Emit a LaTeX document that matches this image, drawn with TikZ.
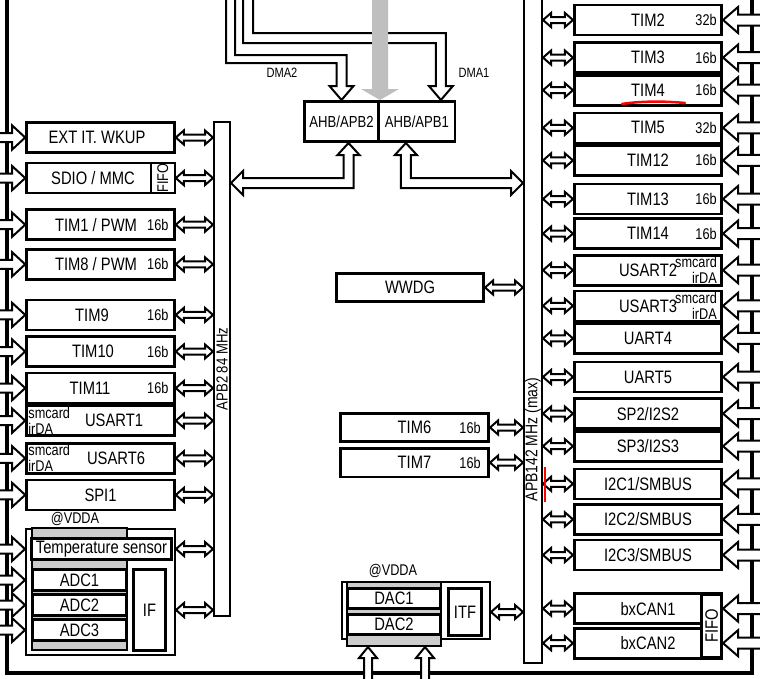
\documentclass[tikz,border=0pt]{standalone}
\usepackage{fontspec}
\setmainfont[FakeStretch=0.82]{Liberation Sans}
\usetikzlibrary{calc,positioning}
\tikzset{blk/.style={draw, line width=2.6pt, fill=white, inner sep=0pt, minimum width=148pt,
    minimum height=30pt, font=\fontsize{18}{19}\selectfont},
  rblk/.style={blk, minimum width=147.5pt},
  bits/.style={inner sep=0pt, align=left, font=\fontsize{15.5}{16}\selectfont},
  bar/.style={draw, line width=2pt, fill=white, inner sep=0pt},
  bus/.style={line width=4.5pt, line join=miter},
  hollow/.style={draw, line width=2pt, fill=white, line join=miter},
  shade/.style={draw, line width=2.4pt, fill=gray!40, inner sep=0pt},
  greyarrow/.style={fill=gray!50}}

% hollow arrow, heads at both ends
\newcommand{\dblarrow}[2]{%
  \path[hollow] let \p1=#1, \p2=#2, \n1={atan2(\y2-\y1,\x2-\x1)},
    \n2={veclen(\x2-\x1,\y2-\y1)} in [shift={(\p1)}, rotate=\n1]
    (0pt,0pt) -- (8pt,7pt) -- (8pt,3pt) -- ({\n2*1pt-8pt},3pt) -- ({\n2*1pt-8pt},7pt)
    -- ({\n2*1pt},0pt) -- ({\n2*1pt-8pt},-7pt) -- ({\n2*1pt-8pt},-3pt) -- (8pt,-3pt)
    -- (8pt,-7pt) -- cycle;}
% hollow arrow, head at #3; #4 shaft, #5 head (half widths), #6 head length
\newcommand{\onearrow}[6][hollow]{%
  \path[#1] let \p1=#2, \p2=#3, \n1={atan2(\y2-\y1,\x2-\x1)},
    \n2={veclen(\x2-\x1,\y2-\y1)} in [shift={(\p1)}, rotate=\n1]
    (0pt,#4pt) -- ({\n2*1pt-#6pt},#4pt) -- ({\n2*1pt-#6pt},#5pt) -- ({\n2*1pt},0pt)
    -- ({\n2*1pt-#6pt},-#5pt) -- ({\n2*1pt-#6pt},-#4pt) -- (0pt,-#4pt) -- cycle;}

\begin{document}
\begin{tikzpicture}[x=1pt, y=-1pt, font=\fontsize{18}{19}\selectfont]
  \useasboundingbox (0,0) rectangle (760,678);
  \coordinate (lft) at (-6,0);
  \coordinate (rgt) at (766,0);
  \coordinate (btm) at (0,684);
  \coordinate (ahbrow) at (0,183);
  % outer bus
  \draw[bus] (7,-6) |- (752,673) -- (752,-6);
  % APB buses
  \node[bar, minimum width=16pt, minimum height=494pt] (apb2) at (222,369) {};
  \node[rotate=90, inner sep=0pt, font=\fontsize{16}{17}\selectfont] (apb2-t) at (apb2) {APB2 84 MHz};
  \node[bar, minimum width=18pt, minimum height=673pt] (apb1) at (533,326.5) {};
  \node[rotate=90, inner sep=0pt, font=\fontsize{17}{18}\selectfont] (apb1-t) at ($(apb1)+(0,113)$) {APB142 MHz (max)};
  % bridges
  \node[blk, minimum width=74.4pt, minimum height=40.4pt, font=\fontsize{16}{17}\selectfont] (ahb2) at (341.5,121.5) {AHB/APB2};
  \node[blk, minimum width=76.4pt, minimum height=40.4pt, font=\fontsize{16}{17}\selectfont, right=-2.6pt of ahb2] (ahb1) {AHB/APB1};

  % APB2 side
  \node[blk] (ext) at (100.5,137.5) {EXT IT. WKUP\hspace*{7pt}};
  \node[blk, below=8pt of ext] (sdio) {SDIO / MMC\hspace*{15pt}};
  \node[blk, below=14pt of sdio] (tim1) {TIM1 / PWM\hspace*{9pt}};
  \node[blk, below=7pt of tim1] (tim8) {TIM8 / PWM\hspace*{9pt}};
  \node[blk, below=18pt of tim8] (tim9) {TIM9\hspace*{17pt}};
  \node[blk, below=4pt of tim9] (tim10) {TIM10\hspace*{15pt}};
  \node[blk, below=4pt of tim10] (tim11) {TIM11\hspace*{21pt}};
  \node[blk, below=0pt of tim11] (usart1) {\hspace*{27pt}USART1};
  \node[blk, below=5pt of usart1] (usart6) {\hspace*{31pt}USART6};
  \node[blk, below=4pt of usart6] (spi1) {SPI1};
  \node[draw, line width=2pt, fill=white, inner sep=0pt, minimum width=24pt, minimum height=30.6pt, anchor=east] (sdiofifo) at (sdio.east) {};
  \node[bits, rotate=90] (sdiofifo-t) at (sdiofifo) {FIFO};
  \foreach \b in {tim1,tim8,tim9,tim10,tim11}
    \node[bits] (\b-w) at ($(\b.east)+(-18,0)$) {16b};
  \node[bits, anchor=west] (usart1-s) at ($(usart1.west)+(3,0)$) {smcard\\irDA};
  \node[bits, anchor=west] (usart6-s) at ($(usart6.west)+(3,0)$) {smcard\\irDA};

  % ADC
  \node[draw, line width=2pt, inner sep=0pt, minimum width=149pt, minimum height=126pt] (adcbox) at (100.5,592) {};
  \node[shade, minimum width=94.6pt, minimum height=121.6pt] (adcgray) at (79.5,589) {};
  \node[blk, minimum width=140.4pt, minimum height=21.4pt] (temp) at (101.5,549) {Temperature sensor};
  \node[blk, minimum width=94.4pt, minimum height=21.4pt] (adc1) at (79.5,580) {ADC1};
  \node[blk, minimum width=94.4pt, minimum height=21.4pt, below=1pt of adc1] (adc2) {ADC2};
  \node[blk, minimum width=94.4pt, minimum height=21.4pt, below=1pt of adc2] (adc3) {ADC3};
  \node[blk, minimum width=32.4pt, minimum height=81.4pt] (adcif) at (149.5,610) {IF};
  \node[bits] (vdda1) at (75,519) {@VDDA};

  % APB1 side
  \node[rblk] (tim2) at (648,20) {TIM2};
  \node[rblk, below=5pt of tim2] (tim3) {TIM3};
  \node[rblk, below=0pt of tim3] (tim4) {TIM4};
  \node[rblk, below=5pt of tim4] (tim5) {TIM5};
  \node[rblk, below=0pt of tim5] (tim12) {TIM12};
  \node[rblk, below=6pt of tim12] (tim13) {TIM13};
  \node[rblk, below=2pt of tim13] (tim14) {TIM14};
  \node[rblk, below=4pt of tim14] (usart2) {USART2};
  \node[rblk, below=3pt of usart2] (usart3) {USART3};
  \node[rblk, below=0pt of usart3] (uart4) {UART4};
  \node[rblk, below=6pt of uart4] (uart5) {UART5};
  \node[rblk, below=4pt of uart5] (spi2) {SP2/I2S2};
  \node[rblk, below=0pt of spi2] (spi3) {SP3/I2S3};
  \node[rblk, below=5pt of spi3] (i2c1) {I2C1/SMBUS};
  \node[rblk, below=3pt of i2c1] (i2c2) {I2C2/SMBUS};
  \node[rblk, below=3pt of i2c2] (i2c3) {I2C3/SMBUS};
  \node[rblk, below=21pt of i2c3] (can1) {bxCAN1};
  \node[rblk, below=2pt of can1] (can2) {bxCAN2};
  \node[draw, line width=3pt, fill=white, inner sep=0pt, minimum width=20pt, minimum height=63pt, anchor=east] (canfifo) at ($(can1.east)!.5!(can2.east)$) {};
  \node[rotate=90, inner sep=0pt] (canfifo-t) at (canfifo) {FIFO};
  \foreach \b/\w in {tim2/32b,tim3/16b,tim4/16b,tim5/32b,tim12/16b,tim13/16b,tim14/16b}
    \node[bits] (\b-w) at ($(\b.east)+(-17,0)$) {\w};
  \node[bits, anchor=east, align=right] (usart2-s) at ($(usart2.east)+(-6,0)$) {smcard\\irDA};
  \node[bits, anchor=east, align=right] (usart3-s) at ($(usart3.east)+(-6,0)$) {smcard\\irDA};

  % middle
  \node[blk, minimum width=147.5pt, minimum height=28.5pt] (wwdg) at (410,287.5) {WWDG};
  \node[blk, minimum width=148.5pt, minimum height=28.5pt] (tim6) at (414.5,427.5) {TIM6};
  \node[blk, minimum width=148.5pt, minimum height=28.5pt, below=4pt of tim6] (tim7) {TIM7};
  \node[bits] (tim6-w) at ($(tim6.east)+(-20,0)$) {16b};
  \node[bits] (tim7-w) at ($(tim7.east)+(-20,0)$) {16b};

  % DAC
  \node[draw, line width=2pt, inner sep=0pt, minimum width=148pt, minimum height=57pt] (dacbox) at (416,610.5) {};
  \node[shade, minimum width=93.6pt, minimum height=63.6pt] (dacgray) at (394,614) {};
  \node[blk, minimum width=93.4pt, minimum height=20.4pt] (dac1) at (394,598.5) {DAC1};
  \node[blk, minimum width=93.4pt, minimum height=20.4pt, below=3pt of dac1] (dac2) {DAC2};
  \node[blk, minimum width=33.4pt, minimum height=47.4pt] (itf) at (465,612) {ITF};
  \node[bits] (vdda2) at (393,571) {@VDDA};
  \coordinate (dacin1) at ($(dacgray.south)+(-26,0)$);
  \coordinate (dacin2) at ($(dacgray.south)+(31,0)$);

  % bus arrows
  \foreach \b in {ext,sdio,tim1,tim8,tim9,tim10,tim11,usart1,usart6,spi1} {
    \onearrow{(lft |- \b.west)}{(\b.west)}{4.5}{12}{13}
    \dblarrow{(\b.east)}{(apb2.west |- \b.east)}
  }
  \foreach \b in {temp,adc1,adc2,adc3} {
    \onearrow{(lft |- \b)}{(adcbox.west |- \b)}{4.5}{12}{13}
  }
  \dblarrow{(adcbox.east |- temp)}{(apb2.west |- temp)}
  \dblarrow{(adcbox.east |- adcif)}{(apb2.west |- adcif)}
  \foreach \b in {tim2,tim3,tim4,tim5,tim12,tim13,tim14,usart2,usart3,uart4,uart5,spi2,spi3,i2c1,i2c2,i2c3,can1,can2} {
    \onearrow{(rgt |- \b.east)}{(\b.east)}{5.5}{13}{15}
    \dblarrow{(apb1.east |- \b.west)}{(\b.west)}
  }
  \foreach \b in {wwdg,tim6,tim7} {
    \dblarrow{(\b.east)}{(apb1.west |- \b.east)}
  }
  \dblarrow{(dacbox.east |- itf)}{(apb1.west |- itf)}
  \onearrow{(btm -| dacin1)}{(dacin1)}{4}{9}{11}
  \onearrow{(btm -| dacin2)}{(dacin2)}{4}{9}{11}

  % bridges to buses
  \coordinate (up2) at ($(ahb2.south)+(7,0)$);
  \coordinate (lt2) at (apb2.east |- ahbrow);
  \path[hollow] (up2) -- ++(11,12) -- ++(-6,0) |- ($(lt2)+(12,5)$) -- ++(0,7) -- (lt2)
    -- ++(12,-12) -- ++(0,7) -| ($(up2)+(-5,12)$) -- ++(-6,0) -- cycle;
  \coordinate (up1) at ($(ahb1.south)+(-11,0)$);
  \coordinate (rt1) at (apb1.west |- ahbrow);
  \path[hollow] (up1) -- ++(-11,12) -- ++(6,0) |- ($(rt1)+(-12,5)$) -- ++(0,7) -- (rt1)
    -- ++(-12,-12) -- ++(0,7) -| ($(up1)+(5,12)$) -- ++(6,0) -- cycle;

  % DMA
  \coordinate (dma1tip) at ($(ahb1.north)+(24,0)$);
  \path[hollow] (226,-6) |- ($(ahb2.north)+(-5,-37)$) -- ++(0,23) -- ++(-7,0) -- (ahb2.north)
    -- ++(12,-14) -- ++(-7,0) |- (235,55) -- (235,-6);
  \path[hollow] (243,-6) |- ($(dma1tip)+(-5,-57)$) -- ++(0,43) -- ++(-7,0) -- (dma1tip)
    -- ++(12,-14) -- ++(-7,0) |- (253,33) -- (253,-6);
  \onearrow[greyarrow]{($(ahb2.north east)+(0,-110)$)}{(ahb2.north east)}{8}{19}{11}
  \node[bits, font=\fontsize{13.5}{14}\selectfont] (dma2-t) at (282,73) {DMA2};
  \node[bits, font=\fontsize{13.5}{14}\selectfont] (dma1-t) at (474,73) {DMA1};

  % pen marks
  \draw[red, line width=2.5pt, line cap=round] (622,104) .. controls (640,101) and (665,101) .. (685,103);
  \draw[red, line width=1.2pt] (545,467) -- (545,502);
\end{tikzpicture}
\end{document}
